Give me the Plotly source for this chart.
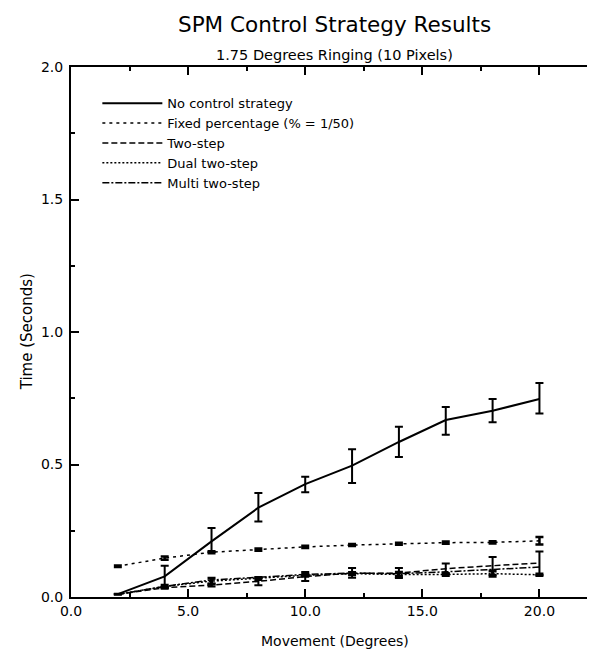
import plotly.graph_objects as go

movement = [2, 4, 6, 8, 10, 12, 14, 16, 18, 20]

no_control = [0.011, 0.078, 0.21, 0.337, 0.426, 0.496, 0.585, 0.668, 0.703, 0.747]
no_control_plus = [0.0, 0.04, 0.05, 0.055, 0.028, 0.062, 0.057, 0.049, 0.044, 0.061]
no_control_minus = [0.0, 0.042, 0.04, 0.052, 0.031, 0.066, 0.057, 0.056, 0.044, 0.055]

fixed_pct = [0.116, 0.147, 0.169, 0.179, 0.189, 0.196, 0.201, 0.205, 0.206, 0.212]
fixed_pct_err = [0.003, 0.006, 0.004, 0.004, 0.004, 0.004, 0.004, 0.004, 0.004, 0.014]

two_step = [0.01, 0.035, 0.045, 0.059, 0.077, 0.09, 0.09, 0.107, 0.118, 0.128]
two_step_plus = [0.0, 0.004, 0.005, 0.015, 0.017, 0.019, 0.019, 0.019, 0.033, 0.044]
two_step_minus = [0.0, 0.004, 0.005, 0.015, 0.017, 0.017, 0.018, 0.02, 0.034, 0.045]

dual_two_step = [0.01, 0.04, 0.06, 0.07, 0.082, 0.088, 0.085, 0.085, 0.088, 0.084]
dual_two_step_err = [0.0, 0.004, 0.011, 0.004, 0.004, 0.004, 0.008, 0.004, 0.01, 0.003]

multi_two_step = [0.01, 0.04, 0.064, 0.074, 0.085, 0.09, 0.088, 0.095, 0.105, 0.113]

x_tick_vals = [0, 5, 10, 15, 20]
x_tick_text = ["0.0", "5.0", "10.0", "15.0", "20.0"]
y_tick_vals = [0, 0.5, 1.0, 1.5, 2.0]
y_tick_text = ["0.0", "0.5", "1.0", "1.5", "2.0"]

FONT = "DejaVu Sans"

fig = go.Figure()

fig.add_trace(go.Scatter(
    x=movement, y=no_control, mode="lines", name="No control strategy",
    line=dict(color="black", width=2, dash="solid"),
    error_y=dict(type="data", array=no_control_plus, arrayminus=no_control_minus,
                 color="black", thickness=2, width=4),
))
fig.add_trace(go.Scatter(
    x=movement, y=fixed_pct, mode="lines", name="Fixed percentage (% = 1/50)",
    line=dict(color="black", width=1.5, dash="3px,4px"),
    error_y=dict(type="data", array=fixed_pct_err, color="black", thickness=2.5, width=4),
))
fig.add_trace(go.Scatter(
    x=movement, y=two_step, mode="lines", name="Two-step",
    line=dict(color="black", width=1.5, dash="6px,3px"),
    error_y=dict(type="data", array=two_step_plus, arrayminus=two_step_minus,
                 color="black", thickness=2, width=4),
))
fig.add_trace(go.Scatter(
    x=movement, y=dual_two_step, mode="lines", name="Dual two-step",
    line=dict(color="black", width=1.5, dash="2px,2px"),
    error_y=dict(type="data", array=dual_two_step_err, color="black", thickness=3, width=4),
))
fig.add_trace(go.Scatter(
    x=movement, y=multi_two_step, mode="lines", name="Multi two-step",
    line=dict(color="black", width=1.5, dash="7px,2px,2px,2px"),
))

axis_common = dict(
    showgrid=False, zeroline=False, showline=True, linecolor="black", linewidth=2,
    mirror="allticks", ticks="inside", ticklen=8, tickwidth=1.5, tickcolor="black",
    tickfont=dict(family=FONT, size=14, color="black"),
)

fig.update_xaxes(
    range=[0, 22.5], tickvals=x_tick_vals, ticktext=x_tick_text,
    minor=dict(tickvals=[2.5, 7.5, 12.5, 17.5], ticks="inside", ticklen=4, tickwidth=1.5, tickcolor="black"),
    **axis_common,
)
fig.update_yaxes(
    range=[0, 2.0], tickvals=y_tick_vals, ticktext=y_tick_text, ticklabelstandoff=3,
    minor=dict(tickvals=[0.25, 0.75, 1.25, 1.75], ticks="inside", ticklen=4, tickwidth=1.5, tickcolor="black"),
    **axis_common,
)

fig.add_annotation(text="SPM Control Strategy Results", xref="paper", yref="paper",
                   x=0.5, y=1.081, showarrow=False, xanchor="center", yanchor="middle",
                   font=dict(family=FONT, size=21.5, color="black"))
fig.add_annotation(text="1.75 Degrees Ringing (10 Pixels)", xref="paper", yref="paper",
                   x=0.5, y=1.0226, showarrow=False, xanchor="center", yanchor="middle",
                   font=dict(family=FONT, size=14.5, color="black"))
fig.add_annotation(text="Movement (Degrees)", xref="paper", yref="paper",
                   x=0.5, y=-0.083, showarrow=False, xanchor="center", yanchor="middle",
                   font=dict(family=FONT, size=14, color="black"))
fig.add_annotation(text="Time (Seconds)", xref="paper", yref="paper",
                   x=-0.083, y=0.5, showarrow=False, xanchor="center", yanchor="middle",
                   textangle=-90, font=dict(family=FONT, size=15, color="black"))

fig.update_layout(
    width=595, height=656,
    margin=dict(l=63, r=3, t=59, b=67),
    paper_bgcolor="white", plot_bgcolor="white",
    showlegend=True,
    legend=dict(x=0.05, y=0.96, xanchor="left", yanchor="top",
                bgcolor="rgba(0,0,0,0)", borderwidth=0,
                itemwidth=60,
                font=dict(family=FONT, size=13, color="black"),
                tracegroupgap=0),
)

fig.write_html("out.html")
